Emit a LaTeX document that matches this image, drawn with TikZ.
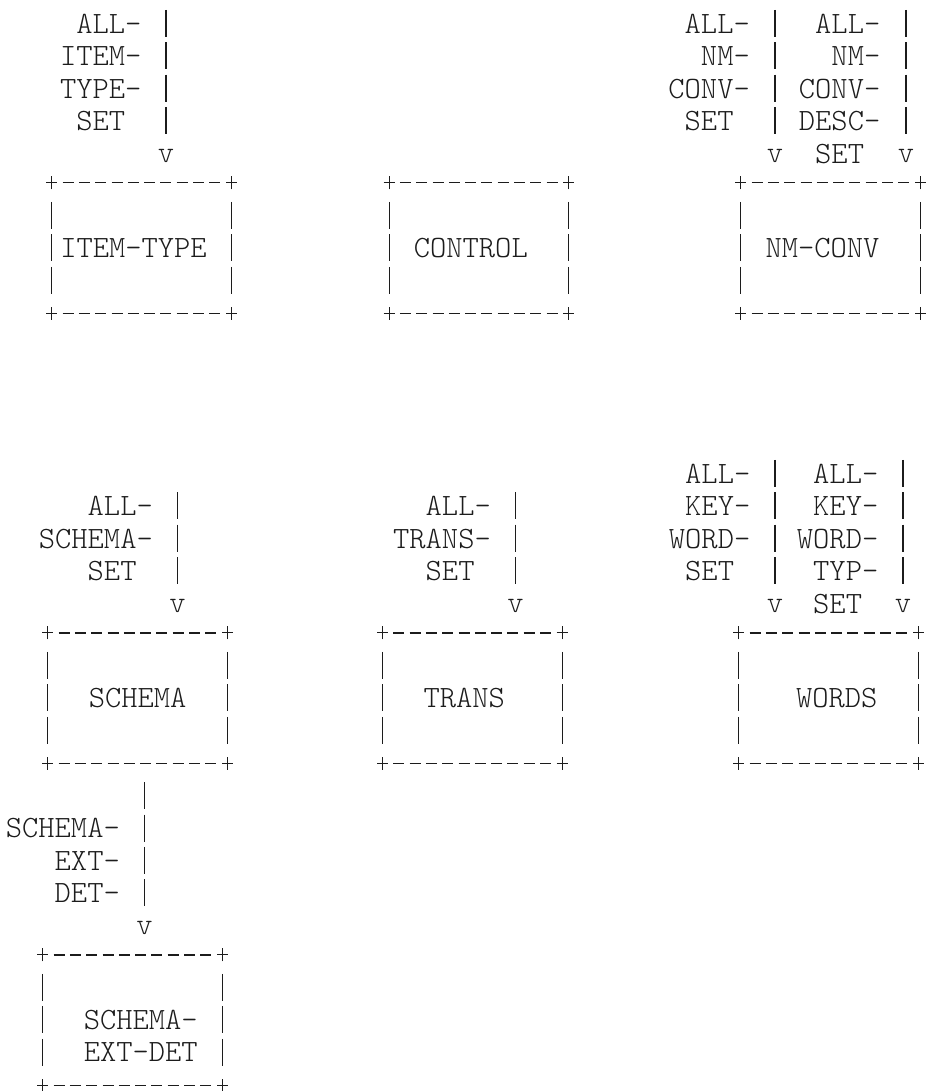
\documentclass[tikz,border=0pt]{standalone}
\usepackage{fontspec}
\newfontfamily\lighttt{Latin Modern Mono Light}
\definecolor{ink}{HTML}{1C1C1C}
\tikzset{
  tt/.style={font=\lighttt\fontsize{31}{32.4}\selectfont, text=ink, inner sep=0pt},
  boxnode/.style={tt, minimum width=179.3pt, minimum height=130pt, align=center},
  lbl/.style={tt, align=right, anchor=north east},
  vmark/.style={tt, anchor=base},
  hdash/.style={draw=ink, line width=1.4pt, dash pattern=on 11pt off 5.3pt},
  vdash/.style={draw=ink, line width=1.2pt, dash pattern=on 27pt off 5.5pt},
  vbar/.style={draw=ink, line width=1.2pt, dash pattern=on 27pt off 5.4pt, shorten >=14.5pt},
  crossline/.style={draw=ink, line width=1.2pt},
}
\newcommand\plusat[1]{%
  \draw[crossline] ([xshift=-5.5pt]#1) -- ([xshift=5.5pt]#1);
  \draw[crossline] ([yshift=-6.5pt]#1) -- ([yshift=6.5pt]#1);}
\newcommand\asciiframe[1]{%
  \draw[hdash] ([xshift=10.8pt]#1.north west) -- ([xshift=-10.8pt]#1.north east);
  \draw[hdash] ([xshift=10.8pt]#1.south west) -- ([xshift=-10.8pt]#1.south east);
  \draw[vdash] ([yshift=-19pt]#1.north west) -- ([yshift=19pt]#1.south west);
  \draw[vdash] ([yshift=-19pt]#1.north east) -- ([yshift=19pt]#1.south east);
  \plusat{#1.north west}\plusat{#1.north east}%
  \plusat{#1.south west}\plusat{#1.south east}}
\begin{document}
\begin{tikzpicture}[x=1pt,y=-1pt]
\useasboundingbox (0,0) rectangle (926,1091);

% ---- boxes ----
\node[boxnode] (itemtype) at (141.65,248) {ITEM-TYPE\phantom{-}};
\node[boxnode] (control)  at (478.95,248) {CONTROL\phantom{-}};
\node[boxnode] (nmconv)   at (830.65,248) {NM-CONV\phantom{-}};
\node[boxnode] (schema)   at (137.65,698) {SCHEMA};
\node[boxnode] (trans)    at (472.35,698) {TRANS\phantom{-}};
\node[boxnode] (words)    at (828.65,698) {\phantom{-}WORDS};
\node[boxnode] (sed)      at (132.65,1020) {\phantom{X}\\\phantom{-}SCHEMA-\\\phantom{-}EXT-DET};

\asciiframe{itemtype}
\asciiframe{control}
\asciiframe{nmconv}
\asciiframe{schema}
\asciiframe{trans}
\asciiframe{words}
\asciiframe{sed}

% ---- ITEM-TYPE input ----
\node[lbl] (itemtypeLbl) at (141.65,14) {ALL-\\ITEM-\\TYPE-\\SET\phantom{-}};
\coordinate (itemtypeSrc) at (166,9.9);
\node[vmark] (itemtypeV) at (166,162.3) {v};
\draw[vbar] (itemtypeSrc) -- (itemtypeV);

% ---- NM-CONV inputs ----
\node[lbl] (nmconvLblA) at (750,14) {ALL-\\NM-\\CONV-\\SET\phantom{-}};
\node[lbl] (nmconvLblB) at (880.5,14) {ALL-\\NM-\\CONV-\\DESC-\\SET\phantom{-}};
\coordinate (nmconvSrcA) at (775,9.9);
\coordinate (nmconvSrcB) at (906,9.9);
\node[vmark] (nmconvVA) at (775,162.3) {v};
\node[vmark] (nmconvVB) at (906,162.3) {v};
\draw[vbar] (nmconvSrcA) -- (nmconvVA);
\draw[vbar] (nmconvSrcB) -- (nmconvVB);

% ---- SCHEMA input ----
\node[lbl] (schemaLbl) at (153,496.35) {ALL-\\SCHEMA-\\SET\phantom{-}};
\coordinate (schemaSrc) at (177.5,492.3);
\node[vmark] (schemaV) at (177.5,612.3) {v};
\draw[vbar] (schemaSrc) -- (schemaV);

% ---- TRANS input ----
\node[lbl] (transLbl) at (491,496.35) {ALL-\\TRANS-\\SET\phantom{-}};
\coordinate (transSrc) at (515.5,492.3);
\node[vmark] (transV) at (515.5,612.3) {v};
\draw[vbar] (transSrc) -- (transV);

% ---- WORDS inputs ----
\node[lbl] (wordsLblA) at (750.5,463.95) {ALL-\\KEY-\\WORD-\\SET\phantom{-}};
\node[lbl] (wordsLblB) at (878.5,463.95) {ALL-\\KEY-\\WORD-\\TYP-\\SET\phantom{-}};
\coordinate (wordsSrcA) at (775,459.9);
\coordinate (wordsSrcB) at (903,459.9);
\node[vmark] (wordsVA) at (775,612.3) {v};
\node[vmark] (wordsVB) at (903,612.3) {v};
\draw[vbar] (wordsSrcA) -- (wordsVA);
\draw[vbar] (wordsSrcB) -- (wordsVB);

% ---- SCHEMA -> SCHEMA-EXT-DET ----
\node[lbl] (sedLbl) at (120,818.35) {SCHEMA-\\EXT-\\DET-};
\node[vmark] (sedV) at (144.5,934.3) {v};
\draw[vbar, shorten <=18.9pt] (schema.south -| sedV) -- (sedV);

\end{tikzpicture}
\end{document}
